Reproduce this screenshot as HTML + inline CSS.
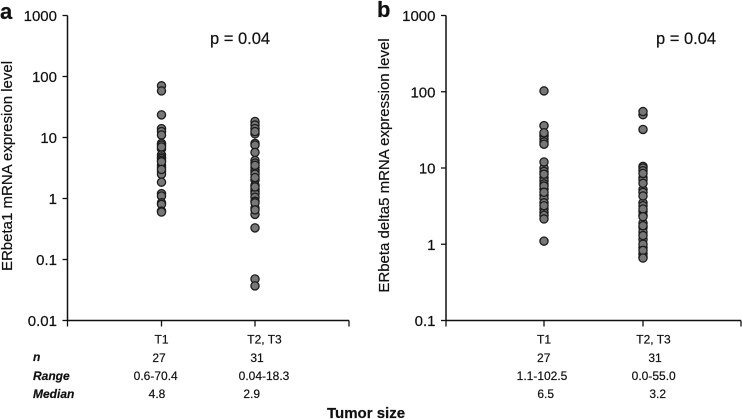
<!DOCTYPE html>
<html>
<head>
<meta charset="utf-8">
<style>
html,body{margin:0;padding:0;background:#fff;width:742px;height:419px;overflow:hidden}
svg{display:block}
text{font-family:"Liberation Sans",sans-serif;fill:#111;stroke:#111;stroke-width:.2px}
.tick{font-size:15px;text-anchor:end}
.cell{font-size:12px;text-anchor:middle}
.rowh{font-size:12px;font-weight:bold;font-style:italic}
.ylab{font-size:15px;text-anchor:middle}
.panel{font-size:22px;font-weight:bold}
.p{font-size:16.5px}
</style>
</head>
<body>
<svg id="fig" xmlns="http://www.w3.org/2000/svg" width="742" height="419" viewBox="0 0 742 419">
  <text class="panel" x="0" y="19">a</text>
  <text class="panel" x="377" y="17">b</text>
  <text class="p" x="210" y="44">p = 0.04</text>
  <text class="p" x="656" y="44">p = 0.04</text>
  <text class="ylab" transform="translate(12 166) rotate(-90)">ERbeta1 mRNA expresion level</text>
  <text class="ylab" transform="translate(389 165.5) rotate(-90)">ERbeta delta5 mRNA expression level</text>

  <text class="rowh" x="33" y="361">n</text>
  <text class="rowh" x="33" y="380">Range</text>
  <text class="rowh" x="33" y="398">Median</text>

  <text class="cell" x="159" y="362">27</text>
  <text class="cell" x="257" y="362">31</text>
  <text class="cell" x="155.7" y="380">0.6-70.4</text>
  <text class="cell" x="264" y="380">0.04-18.3</text>
  <text class="cell" x="157" y="398">4.8</text>
  <text class="cell" x="251.7" y="398">2.9</text>

  <text class="cell" x="543.7" y="362">27</text>
  <text class="cell" x="655" y="362">31</text>
  <text class="cell" x="542" y="380">1.1-102.5</text>
  <text class="cell" x="653.7" y="380">0.0-55.0</text>
  <text class="cell" x="545.7" y="398">6.5</text>
  <text class="cell" x="657.7" y="398">3.2</text>

  <text x="327" y="418" style="font-size:15px;font-weight:bold">Tumor size</text>
</svg>
<script>
var categories = ['T1', 'T2, T3'];
var ticksA = [1000, 100, 10, 1, 0.1, 0.01];
var ticksB = [1000, 100, 10, 1, 0.1];
var a_t1 = [70.4,14,12.5,8,7.5,6.5,5.2,4.8,4.5,3.5,3.2,2.8,2.5,1.2,1.1,0.85,58,23.5,11,7,4.2,4,3,1.85,0.8,0.62,0.6];
var a_t23 = [18.3,16,14,11.5,8,4.2,3.8,3.2,2.9,2.7,2.5,2,1.65,1.4,1.3,1.2,1.05,0.9,0.7,0.55,12.5,7.5,5.7,3.5,2.2,1.55,0.85,0.65,0.33,0.048,0.037];
var b_t1 = [36,27,26,24,22,20.5,10,9,7.5,6.8,6.2,5.3,4.4,4,3.5,2.9,2.6,2.4,102.5,29,12,8.3,5.8,4.8,3.2,2.15,1.1];
var b_t23 = [50,10.5,10,9.2,7.5,7,5.2,4.8,3.5,3.2,2.7,2.4,1.9,1.65,1.45,1.15,0.9,0.75,0.68,55,32,8.5,6.3,4.3,2.9,2.3,1.75,1.3,1,0.83,0.66];

var NS = 'http://www.w3.org/2000/svg';
var svg = document.getElementById('fig');
function mk(tag, attrs, parent) {
  var e = document.createElementNS(NS, tag);
  for (var k in attrs) e.setAttribute(k, attrs[k]);
  (parent || svg).appendChild(e);
  return e;
}
function drawPanel(id, ticks, seriesList, left, right, catX, labX) {
  var top = 15.5, bottom = 320.5;
  var maxL = Math.log10(ticks[0]), minL = Math.log10(ticks[ticks.length - 1]);
  function y(v) { return top + (maxL - Math.log10(v)) / (maxL - minL) * (bottom - top); }
  var g = mk('g', {});
  
  
  var ya = mk('line', {x1: left, x2: left, y1: top, y2: bottom, stroke: '#111', 'stroke-width': 1.5}, g);
  
  
  var xa = mk('line', {x1: left, x2: right, y1: bottom, y2: bottom, stroke: '#111', 'stroke-width': 1.5}, g);
  
  
  ticks.forEach(function (t) {
    var ty = y(t);
    var tl = mk('line', {x1: left - 5, x2: left, y1: ty, y2: ty, stroke: '#111', 'stroke-width': 1.3}, g);
    
    
    var tx = mk('text', {'class': 'tick', x: left - 10.5, y: ty + 5.5}, g);
    
    
    tx.textContent = String(t);
  });
  [left, catX[0], catX[1], right].forEach(function (x) {
    var tl = mk('line', {x1: x, x2: x, y1: bottom, y2: bottom + 6, stroke: '#111', 'stroke-width': 1.3}, g);
    
    
  });
  categories.forEach(function (c, i) {
    var tx = mk('text', {'class': 'cell', x: labX[i], y: 343.5}, g);
    
    
    tx.textContent = c;
    seriesList[i].forEach(function (v) {
      var pt = mk('circle', {cx: catX[i], cy: y(v), r: 4.1, fill: '#777', stroke: '#1c1c1c', 'stroke-width': 1.3}, g);
      
      
    });
  });
}
drawPanel('a', ticksA, [a_t1, a_t23], 67.5, 349, [161.5, 255], [161.5, 264.5]);
drawPanel('b', ticksB, [b_t1, b_t23], 446, 741, [544, 643], [544, 653.5]);
</script>
</body>
</html>
